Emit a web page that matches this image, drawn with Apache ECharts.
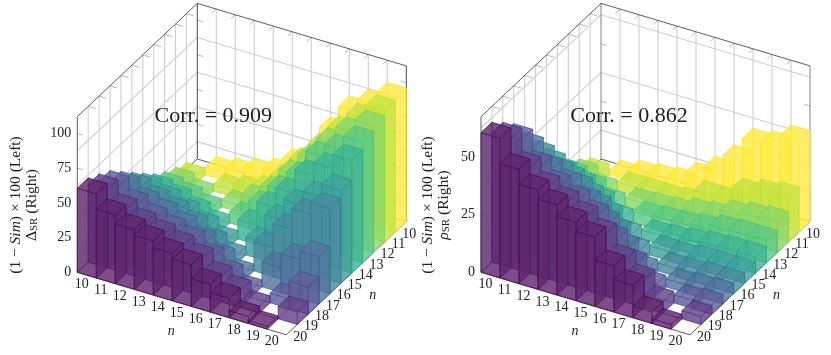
<!DOCTYPE html>
<html>
<head>
<meta charset="utf-8">
<script src="https://cdn.jsdelivr.net/npm/echarts@6/dist/echarts.min.js"></script>
<style>html,body{margin:0;background:#fff}#main{width:831px;height:355px}</style>
</head>
<body>
<div id="main"></div>
<script>
const nLabels = [10, 11, 12, 13, 14, 15, 16, 17, 18, 19, 20];
const rowColors = ['#fde725', '#bddf26', '#7ad151', '#44bf70', '#22a884', '#21918c', '#2a788e', '#355f8d', '#414487', '#482475', '#440154'];
const zTicksDelta = [0, 25, 50, 75, 100];
const zTicksRho = [0, 25, 50];
const zGridDelta = [12.5, 37.5, 62.5, 87.5];
const zGridRho = [12.5, 37.5, 62.5];

// one list per row n, values for the cells left of the diagonal (n = 10, 11, ...)
const simRow11 = [5];
const simRow12 = [9, 5];
const simRow13 = [13, 10, 6];
const simRow14 = [19, 16, 11, 6];
const simRow15 = [27, 23, 18, 12, 6];
const simRow16 = [35, 30, 26, 20, 12, 6];
const simRow17 = [43, 36, 32, 27, 20, 12, 5];
const simRow18 = [51, 42, 36, 32, 28, 20, 12, 5];
const simRow19 = [56, 46, 40, 36, 32, 27, 18, 12, 5];
const simRow20 = [60.5, 49.5, 43, 39, 34, 30, 20, 14, 5, 2];
const simRows = [[], simRow11, simRow12, simRow13, simRow14, simRow15, simRow16, simRow17, simRow18, simRow19, simRow20];

// cells right of the diagonal, ending at column n = 20
const deltaRows = [
  [6, 9, 13, 17, 28, 35, 59, 78, 87, 96],
  [5, 8, 12, 24, 40, 55, 71, 84.5, 94.6],
  [5, 13, 23, 39, 54, 70, 82, 91],
  [8, 20, 35, 49, 68, 77, 87],
  [14, 31, 45, 62, 71, 81],
  [13, 33, 48, 58, 67],
  [21, 38, 53, 61],
  [18, 28, 34],
  [7, 19.4],
  [8.9],
  []
];
const rhoRows = [
  [2, 4.5, 5.5, 6.5, 11, 16, 23.4, 33, 34.5, 39.4],
  [3.9, 4, 4, 4.6, 10, 10, 15.9, 17.9, 19.4],
  [4, 4.5, 5, 7, 8, 11, 12.5, 13.3],
  [5, 5.5, 6, 7, 9, 9.5, 9.5],
  [4, 4.5, 5.5, 6.5, 7, 7],
  [4, 4, 5, 5, 5],
  [3.5, 4, 4.5, 4.5],
  [3.5, 4, 4.5],
  [3.5, 4],
  [3.5],
  []
];

const stepX = [19, 5.68];
const stepY = [10.91, -10.3];
const panels = [
  { left: 77.3, zMax: 112, zTicks: zTicksDelta, zGrid: zGridDelta, upper: deltaRows, edge: '#333' },
  { left: 481, zMax: 67.4, zTicks: zTicksRho, zGrid: zGridRho, upper: rhoRows, edge: '#777' }
];
const floorY = 272.3;
const zHeight = 155.6;

function cellsFor(panel) {
  const out = [];
  nLabels.forEach((rowN, r) => {
    simRows[r].forEach((v, i) => out.push([i, r, v]));
    panel.upper[r].forEach((v, i) => out.push([r + 1 + i, r, v]));
  });
  // back to front so the transparent faces stack right
  out.sort((a, b) => (a[0] + a[1]) - (b[0] + b[1]));
  return out;
}

function projector(panel) {
  return (cx, cy, h) => [
    panel.left + stepX[0] * cx + stepY[0] * (11 - cy),
    floorY + stepX[1] * cx + stepY[1] * (11 - cy) - h
  ];
}

function renderBar(panel, params, api) {
  const p = projector(panel);
  const cx = api.value(0), cy = api.value(1);
  const h = api.size([0, api.value(2)])[1];
  const color = rowColors[cy];
  const fill = echarts.color.lerp(0.15, [color, '#ffffff']);
  const corners = (z) => [p(cx, cy, z), p(cx + 1, cy, z), p(cx + 1, cy + 1, z), p(cx, cy + 1, z)];
  const b = corners(0), t = corners(h);
  const faces = [
    b,
    [b[0], b[1], t[1], t[0]],
    [b[3], b[0], t[0], t[3]],
    [b[1], b[2], t[2], t[1]],
    [b[3], b[2], t[2], t[3]],
    t
  ];
  return {
    type: 'group',
    children: faces.map(points => ({
      type: 'polygon',
      shape: { points },
      style: { fill, fillOpacity: 0.58, stroke: color, strokeOpacity: 0.7, lineWidth: 0.6 }
    }))
  };
}

function renderBox(panel, params, api) {
  const p = projector(panel);
  const top = api.size([0, panel.zMax])[1];
  const line = (a, b, stroke, lineWidth) => ({
    type: 'line',
    shape: { x1: a[0], y1: a[1], x2: b[0], y2: b[1] },
    style: { stroke, lineWidth }
  });
  const kids = [];
  for (let k = 1; k <= 10; k++) {
    kids.push(line(p(0, k, 0), p(0, k, top), '#cfcfcf', 1.1));
    kids.push(line(p(k, 0, 0), p(k, 0, top), '#cfcfcf', 1.1));
    kids.push(line(p(0, k, top), p(0.4, k, top), '#999', 0.7));
    kids.push(line(p(k, 0, top), p(k, 0.4, top), '#999', 0.7));
  }
  panel.zGrid.forEach(z => {
    const h = api.size([0, z])[1];
    kids.push(line(p(0, 11, h), p(0, 0, h), '#cfcfcf', 1.1));
    kids.push(line(p(0, 0, h), p(11, 0, h), '#cfcfcf', 1.1));
  });
  panel.zTicks.slice(1).forEach(z => {
    const h = api.size([0, z])[1];
    kids.push(line(p(0, 0, h), p(0.3, 0, h), '#999', 0.7));
    kids.push(line(p(11, 0, h), p(10.7, 0, h), '#999', 0.7));
    kids.push(line(p(0, 11, h), p(0.3, 11, h), '#999', 0.7));
  });
  const e = panel.edge;
  kids.push(line(p(0, 11, 0), p(0, 11, top), '#333', 0.8));
  kids.push(line(p(0, 0, 0), p(0, 0, top), e, 0.9));
  kids.push(line(p(11, 0, 0), p(11, 0, top), e, 0.9));
  kids.push(line(p(0, 11, top), p(0, 0, top), '#333', 0.8));
  kids.push(line(p(0, 0, top), p(11, 0, top), '#333', 0.8));
  kids.push(line(p(0, 11, 0), p(0, 0, 0), '#333', 0.8));
  kids.push(line(p(0, 0, 0), p(11, 0, 0), '#333', 0.8));
  kids.push(line(p(0, 11, 0), p(11, 11, 0), '#333', 0.8));
  kids.push(line(p(11, 11, 0), p(11, 0, 0), '#333', 0.8));
  return { type: 'group', children: kids };
}

const labelFont = '"Liberation Serif", serif';

function renderLabels(panel, idx, params, api) {
  const p = projector(panel);
  const text = (x, y, s, size, extra) => ({
    type: 'text',
    x, y,
    rotation: (extra && extra.rotation) || 0,
    style: Object.assign({ text: s, fontFamily: labelFont, fontSize: size, fill: '#222', align: 'center', verticalAlign: 'middle' }, extra && extra.style)
  });
  const kids = [];
  nLabels.forEach((n, i) => {
    const a = p(i, 11, 0);
    kids.push(text(a[0] + 4.5, a[1] + 12.5, String(n), 14));
    const b = p(11, i, 0);
    kids.push(text(b[0] + 3, b[1] + 12.5, String(n), 14));
  });
  const nA = p(5, 11, 0), nB = p(11, 5, 0);
  kids.push(text(nA[0] - 1, nA[1] + 31, 'n', 14, { style: { fontStyle: 'italic' } }));
  kids.push(text(nB[0] + 21, nB[1] + 22, 'n', 14, { style: { fontStyle: 'italic' } }));
  kids.push(text(p(0, 11, 0)[0] + (idx ? 148 : 136), 116, idx ? 'Corr. = 0.862' : 'Corr. = 0.909', 22));
  const baseX = idx ? 428 : 16;
  const italic = { fontStyle: 'italic', fontFamily: labelFont, fontSize: 15.5, fill: '#222' };
  kids.push(text(baseX, 205, '(1 − {i|Sim}) × 100 (Left)', 15.5, {
    rotation: Math.PI / 2,
    style: { rich: { i: italic } }
  }));
  kids.push(text(baseX + 16, 205, (idx ? '{i|ρ}' : 'Δ') + '{s|SR} (Right)', 15.5, {
    rotation: Math.PI / 2,
    style: { rich: { i: italic, s: { fontFamily: labelFont, fontSize: 11, fill: '#222', verticalAlign: 'bottom' } } }
  }));
  return { type: 'group', children: kids };
}

const chart = echarts.init(document.getElementById('main'), null, { renderer: 'canvas' });
const series = [];
panels.forEach((panel, idx) => {
  series.push({
    type: 'custom', xAxisIndex: idx, yAxisIndex: idx, silent: true, z: 1,
    data: [[0, 0]], renderItem: (params, api) => renderBox(panel, params, api)
  });
  series.push({
    type: 'custom', xAxisIndex: idx, yAxisIndex: idx, silent: true, z: 2,
    data: cellsFor(panel), progressive: 0, renderItem: (params, api) => renderBar(panel, params, api),
    encode: { x: 0, y: 2 }
  });
  series.push({
    type: 'custom', xAxisIndex: idx, yAxisIndex: idx, silent: true, z: 3,
    data: [[0, 0]], renderItem: (params, api) => renderLabels(panel, idx, params, api)
  });
});

chart.setOption({
  animation: false,
  grid: panels.map(panel => ({ left: panel.left, top: floorY - zHeight, width: 330, height: zHeight })),
  xAxis: panels.map((panel, i) => ({ type: 'value', gridIndex: i, min: 0, max: 11, show: false })),
  yAxis: panels.map((panel, i) => ({
    type: 'value', gridIndex: i, min: 0, max: panel.zMax,
    axisLine: { show: false }, axisTick: { show: false }, splitLine: { show: false },
    axisLabel: { customValues: panel.zTicks, margin: 6, fontFamily: labelFont, fontSize: 14, color: '#222' }
  })),
  series
});
</script>
</body>
</html>
